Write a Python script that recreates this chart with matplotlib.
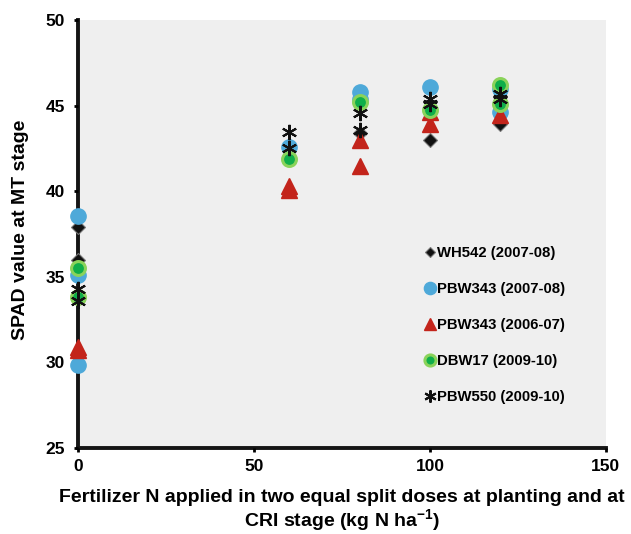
import matplotlib.pyplot as plt
import numpy as np

plt.rcParams['font.family'] = ['Liberation Sans', 'DejaVu Sans']
plt.rcParams['mathtext.fontset'] = 'custom'
plt.rcParams['mathtext.rm'] = 'Liberation Sans:bold'
plt.rcParams['mathtext.bf'] = 'Liberation Sans:bold'

# Dosis de N (kg N/ha) y valores SPAD
wh542_x = [0, 0, 60, 80, 100, 120]
wh542_y = [37.9, 36.0, 42.0, 43.4, 43.0, 43.9]

pbw343a_x = [0, 0, 0, 60, 80, 80, 100, 120, 120]
pbw343a_y = [38.55, 35.1, 29.85, 42.6, 45.8, 45.4, 46.1, 46.0, 44.6]

pbw343b_x = [0, 0, 60, 60, 80, 80, 100, 100, 120]
pbw343b_y = [30.7, 30.9, 40.1, 40.3, 43.0, 41.5, 43.9, 44.6, 44.45]

dbw17_x = [0, 0, 60, 80, 100, 120, 120]
dbw17_y = [35.5, 33.8, 41.9, 45.2, 44.75, 46.2, 45.1]

pbw550_x = [0, 0, 60, 60, 80, 80, 100, 100, 120, 120]
pbw550_y = [34.3, 33.6, 43.45, 42.5, 44.55, 43.6, 45.4, 45.1, 45.7, 45.4]

fig = plt.figure(figsize=(6.31, 5.34), dpi=100)
ax = fig.add_axes([0.1236, 0.161, 0.8366, 0.8015])
ax.set_facecolor('#efefef')

h1, = ax.plot(wh542_x, wh542_y, linestyle='none', marker='D', ms=7,
              mfc='#111111', mec='#777777', mew=0.8, clip_on=False,
              label='WH542 (2007-08)')
h2, = ax.plot(pbw343a_x, pbw343a_y, linestyle='none', marker='o', ms=11,
              mfc='#4ea9d9', mec='#4ea9d9', clip_on=False,
              label='PBW343 (2007-08)')
h3, = ax.plot(pbw343b_x, pbw343b_y, linestyle='none', marker='^', ms=11,
              mfc='#c3241b', mec='#c3241b', clip_on=False,
              label='PBW343 (2006-07)')
h4, = ax.plot(dbw17_x, dbw17_y, linestyle='none', marker='o', ms=10,
              mfc='#0fae4a', mec='#8ad35a', mew=2.2, clip_on=False,
              label='DBW17 (2009-10)')
h5, = ax.plot(pbw550_x, pbw550_y, linestyle='none', marker=(6, 2, 0), ms=11,
              color='#111111', mew=1.5, clip_on=False,
              label='PBW550 (2009-10)')

ax.set_xlim(0, 150)
ax.set_ylim(25, 50)
ax.set_xticks(np.arange(0, 151, 50))
ax.set_yticks(np.arange(25, 51, 5))

for side in ['top', 'right']:
    ax.spines[side].set_visible(False)
for side in ['left', 'bottom']:
    ax.spines[side].set_linewidth(2.8)
    ax.spines[side].set_color('#151515')
    ax.spines[side].set_zorder(0)
ax.tick_params(direction='out', length=3, width=2, labelsize=12.5)
ax.tick_params(axis='y', pad=6.5)
ax.tick_params(axis='x', pad=5)
for lbl in ax.get_xticklabels() + ax.get_yticklabels():
    lbl.set_fontweight('bold')

ax.set_ylabel('SPAD value at MT stage', fontsize=14, fontweight='bold')
ax.yaxis.set_label_coords(-0.093, 0.51)
ax.set_xlabel('Fertilizer N applied in two equal split doses at planting and at\n'
              'CRI stage (kg N ha$^{\\mathbf{-1}}$)', fontsize=14, fontweight='bold',
              linespacing=1.05)
ax.xaxis.set_label_coords(0.5, -0.096)

leg = ax.legend(handles=[h1, h2, h3, h4, h5], loc='center left',
                bbox_to_anchor=(0.633, 0.288), frameon=False, handlelength=0.6,
                handletextpad=0.2, labelspacing=1.48, markerscale=0.8,
                prop={'weight': 'bold', 'size': 10.7})

fig.savefig('out.png', dpi=100)
